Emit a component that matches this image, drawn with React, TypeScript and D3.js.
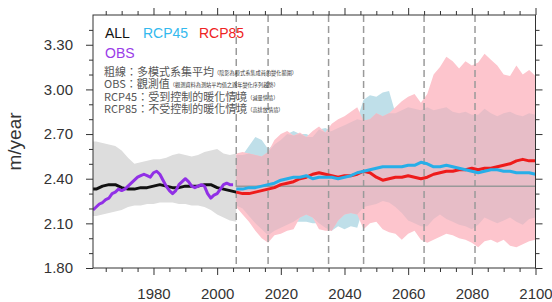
import React, { useEffect, useRef } from "react";
import * as d3 from "d3";

// historical (every 2 years, 1960-2006)
const histYears = d3.range(1960, 2007, 2);
const histUp = [2.65, 2.65, 2.64, 2.63, 2.62, 2.59, 2.54, 2.50, 2.51, 2.52,
  2.53, 2.53, 2.54, 2.56, 2.57, 2.56, 2.55, 2.56, 2.58, 2.59,
  2.60, 2.57, 2.56, 2.57];
const histLo = [2.15, 2.15, 2.16, 2.17, 2.18, 2.19, 2.21, 2.22, 2.22, 2.23,
  2.23, 2.24, 2.24, 2.24, 2.23, 2.23, 2.22, 2.22, 2.21, 2.19,
  2.16, 2.14, 2.12, 2.11];
const allMean = [2.33, 2.33, 2.35, 2.36, 2.36, 2.34, 2.33, 2.33, 2.34, 2.34,
  2.35, 2.36, 2.35, 2.34, 2.34, 2.35, 2.35, 2.35, 2.36, 2.36,
  2.34, 2.33, 2.32, 2.31];

// observations (yearly 1961-2005)
const obsYears = d3.range(1961, 2006);
const obs = [2.19, 2.21, 2.23, 2.24, 2.26, 2.27, 2.30, 2.31, 2.33, 2.32,
  2.33, 2.35, 2.37, 2.39, 2.41, 2.42, 2.43, 2.42, 2.41, 2.44,
  2.45, 2.43, 2.39, 2.35, 2.32, 2.30, 2.32, 2.36, 2.38, 2.40,
  2.38, 2.35, 2.34, 2.35, 2.36, 2.35, 2.30, 2.27, 2.29, 2.30,
  2.33, 2.36, 2.37, 2.36, 2.36];

// projections (every 2 years, 2006-2100)
const futYears = d3.range(2006, 2101, 2);
const up85 = [2.57, 2.58, 2.57, 2.56, 2.55, 2.58, 2.66, 2.70, 2.72, 2.69,
  2.71, 2.68, 2.72, 2.75, 2.71, 2.77, 2.80, 2.82, 2.85, 2.88,
  2.79, 2.80, 2.84, 2.82, 2.84, 2.88, 2.92, 2.95, 2.97, 2.91,
  2.97, 3.10, 3.15, 3.22, 3.19, 3.14, 3.19, 3.16, 3.18, 3.24,
  3.20, 3.16, 3.10, 3.09, 3.16, 3.10, 3.13, 3.09];
const lo85 = [2.21, 2.16, 2.11, 2.05, 2.00, 1.97, 2.02, 2.03, 2.05, 2.06,
  2.14, 2.16, 2.14, 2.06, 2.05, 2.05, 2.12, 2.16, 2.17, 2.16,
  2.06, 2.10, 2.11, 2.06, 2.04, 2.03, 1.99, 2.03, 2.05, 1.99,
  1.97, 1.99, 2.01, 2.03, 2.02, 2.00, 1.99, 1.97, 1.94, 1.98,
  1.99, 1.97, 1.99, 1.95, 1.94, 1.96, 1.98, 1.99];
const up45 = [2.56, 2.56, 2.62, 2.68, 2.66, 2.60, 2.63, 2.66, 2.70, 2.72,
  2.70, 2.70, 2.68, 2.73, 2.74, 2.72, 2.74, 2.76, 2.78, 2.80,
  2.93, 2.96, 2.95, 2.98, 2.99, 2.84, 2.86, 2.88, 2.87, 2.86,
  2.88, 2.86, 2.87, 2.88, 2.85, 2.84, 2.85, 2.83, 2.83, 2.87,
  2.84, 2.82, 2.84, 2.85, 2.83, 2.82, 2.84, 2.83];
const lo45 = [2.22, 2.20, 2.15, 2.10, 2.06, 2.02, 2.05, 2.07, 2.09, 2.11,
  2.11, 2.11, 2.10, 2.10, 2.07, 2.05, 2.08, 2.06, 2.08, 2.07,
  2.21, 2.22, 2.23, 2.25, 2.24, 2.21, 2.17, 2.12, 2.10, 2.08,
  2.08, 2.13, 2.16, 2.13, 2.11, 2.09, 2.08, 2.06, 2.09, 2.14,
  2.12, 2.10, 2.12, 2.14, 2.11, 2.09, 2.13, 2.14];
const rcp85 = [2.31, 2.30, 2.30, 2.31, 2.32, 2.33, 2.34, 2.36, 2.37, 2.38,
  2.40, 2.41, 2.43, 2.44, 2.43, 2.42, 2.41, 2.42, 2.42, 2.43,
  2.45, 2.44, 2.41, 2.39, 2.40, 2.41, 2.41, 2.42, 2.41, 2.40,
  2.41, 2.43, 2.44, 2.45, 2.45, 2.46, 2.46, 2.47, 2.46, 2.47,
  2.47, 2.48, 2.49, 2.50, 2.52, 2.53, 2.52, 2.52];
const rcp45 = [2.33, 2.33, 2.34, 2.34, 2.35, 2.36, 2.37, 2.39, 2.40, 2.41,
  2.41, 2.42, 2.40, 2.41, 2.41, 2.41, 2.40, 2.41, 2.42, 2.44,
  2.45, 2.46, 2.47, 2.48, 2.48, 2.48, 2.48, 2.49, 2.49, 2.51,
  2.50, 2.48, 2.48, 2.49, 2.48, 2.47, 2.46, 2.45, 2.44, 2.45,
  2.46, 2.46, 2.45, 2.45, 2.44, 2.44, 2.44, 2.43];

const baseYears = [2006, 2100];
const baseValue = 2.35;
const dashYears = [2006, 2016, 2035, 2046, 2065, 2081];
const yMajor = [1.8, 2.1, 2.4, 2.7, 3.0, 3.3];
const xMajor = [1980, 2000, 2020, 2040, 2060, 2080, 2100];

const notes = [
  { main: "粗線：多模式系集平均", small: "（陰影為模式系集成員的變化範圍）" },
  { main: "OBS：觀測值", small: "（觀測資料為測站平均值之逐年變化序列趨勢）" },
  { main: "RCP45：受到控制的暖化情境", small: "（減量情境）" },
  { main: "RCP85：不受控制的暖化情境", small: "（高排放情境）" },
];

const W = 552, H = 302;
const margin = { top: 15, right: 16.5, bottom: 34, left: 93 };

export default function App() {
  const ref = useRef<SVGSVGElement>(null);

  useEffect(() => {
    const svg = d3.select(ref.current);
    svg.selectAll("*").remove();

    const x = d3.scaleLinear().domain([1961, 2100]).range([margin.left, W - margin.right]);
    const y = d3.scaleLinear().domain([1.8, 3.5]).range([H - margin.bottom, margin.top]);
    const x0 = margin.left, x1 = W - margin.right, y0 = margin.top, y1 = H - margin.bottom;

    svg.append("clipPath").attr("id", "plot-clip")
      .append("rect").attr("x", x0).attr("y", y0).attr("width", x1 - x0).attr("height", y1 - y0);
    const g = svg.append("g").attr("clip-path", "url(#plot-clip)");

    const band = (yrs: number[], lo: number[], hi: number[]) =>
      d3.area<number>().x((_, i) => x(yrs[i])).y0((_, i) => y(lo[i])).y1((_, i) => y(hi[i]))(yrs);
    const line = (yrs: number[], v: number[]) =>
      d3.line<number>().x((_, i) => x(yrs[i])).y((_, i) => y(v[i]))(yrs);

    g.append("path").attr("d", band(histYears, histLo, histUp)).attr("fill", "#dddddd");
    g.append("path").attr("d", band(futYears, lo45, up45)).attr("fill", "#bfdfe9");
    g.append("path").attr("d", band(futYears, lo85, up85)).attr("fill", "#fdc5cd");
    const ovLo = futYears.map((_, i) => Math.max(lo45[i], lo85[i]));
    const ovHi = futYears.map((_, i) => Math.min(up45[i], up85[i]));
    g.append("path").attr("d", band(futYears, ovLo, ovHi)).attr("fill", "#e7bdc7");

    g.selectAll(".dash").data(dashYears).join("line")
      .attr("x1", d => x(d)).attr("x2", d => x(d)).attr("y1", y0).attr("y2", y1)
      .attr("stroke", "#9a9a9a").attr("stroke-width", 1.5).attr("stroke-dasharray", "7,4");

    g.append("line")
      .attr("x1", x(baseYears[0])).attr("x2", x(baseYears[1]))
      .attr("y1", y(baseValue)).attr("y2", y(baseValue))
      .attr("stroke", "#999").attr("stroke-width", 1.5);

    const drawLine = (yrs: number[], v: number[], color: string) =>
      g.append("path").attr("d", line(yrs, v)).attr("fill", "none")
        .attr("stroke", color).attr("stroke-width", 3).attr("stroke-linejoin", "round");
    drawLine(histYears, allMean, "#111");
    drawLine(obsYears, obs, "#9130e6");
    drawLine(futYears, rcp85, "#ee1b1b");
    drawLine(futYears, rcp45, "#27aee8");

    // frame + ticks
    svg.append("rect").attr("x", x0).attr("y", y0).attr("width", x1 - x0).attr("height", y1 - y0)
      .attr("fill", "none").attr("stroke", "#333").attr("stroke-width", 1);

    const xMinor = d3.range(1965, 2101, 5).filter(d => !xMajor.includes(d));
    const yMinor = d3.range(19, 35).map(d => d / 10).filter(d => !yMajor.some(m => Math.abs(m - d) < 1e-6));
    const font = "'Liberation Sans', Arial, sans-serif";

    const styleAxis = (sel: any) => {
      sel.select(".domain").remove();
      sel.selectAll("line").attr("stroke", "#333");
      sel.selectAll("text").attr("fill", "#333").style("font-family", font).style("font-size", "15px");
    };

    svg.append("g").attr("transform", `translate(0,${y1})`)
      .call(d3.axisBottom(x).tickValues(xMajor).tickSize(7).tickPadding(13).tickFormat(d3.format("d")))
      .call(styleAxis);
    svg.append("g").attr("transform", `translate(0,${y1})`)
      .call(d3.axisBottom(x).tickValues(xMinor).tickSize(4).tickFormat(() => ""))
      .call(styleAxis);
    svg.append("g").attr("transform", `translate(0,${y0})`)
      .call(d3.axisTop(x).tickValues(xMajor).tickSize(7).tickFormat(() => ""))
      .call(styleAxis);
    svg.append("g").attr("transform", `translate(0,${y0})`)
      .call(d3.axisTop(x).tickValues(xMinor).tickSize(4).tickFormat(() => ""))
      .call(styleAxis);

    svg.append("g").attr("transform", `translate(${x0},0)`)
      .call(d3.axisLeft(y).tickValues(yMajor).tickSize(7).tickPadding(13).tickFormat(d3.format(".2f")))
      .call(styleAxis);
    svg.append("g").attr("transform", `translate(${x0},0)`)
      .call(d3.axisLeft(y).tickValues(yMinor).tickSize(4).tickFormat(() => ""))
      .call(styleAxis);
    svg.append("g").attr("transform", `translate(${x1},0)`)
      .call(d3.axisRight(y).tickValues(yMajor).tickSize(7).tickFormat(() => ""))
      .call(styleAxis);
    svg.append("g").attr("transform", `translate(${x1},0)`)
      .call(d3.axisRight(y).tickValues(yMinor).tickSize(4).tickFormat(() => ""))
      .call(styleAxis);

    svg.append("text").attr("transform", `translate(21,${(y0 + y1) / 2}) rotate(-90)`)
      .attr("text-anchor", "middle").attr("fill", "#333")
      .style("font-family", font).style("font-size", "19px").text("m/year");

    // legend
    const leg = [
      { t: "ALL", c: "#111", x: 105, y: 38 },
      { t: "RCP45", c: "#33b9ee", x: 143, y: 38 },
      { t: "RCP85", c: "#ee2222", x: 199, y: 38 },
      { t: "OBS", c: "#9a3ce8", x: 105, y: 58 },
    ];
    svg.selectAll(".leg").data(leg).join("text")
      .attr("x", d => d.x).attr("y", d => d.y).attr("fill", d => d.c)
      .style("font-family", font).style("font-size", "14px").text(d => d.t);

    // notes: main text and tiny remark as separate texts
    const cjk = "'Noto Sans CJK TC', 'Noto Sans CJK SC', sans-serif";
    notes.forEach((n, i) => {
      const base = 75.5 + i * 12.5;
      const t = svg.append("text").attr("x", 104).attr("y", base)
        .attr("fill", "#555").style("font-family", cjk).style("font-size", "11px").text(n.main);
      const w = (t.node() as SVGTextElement).getComputedTextLength();
      svg.append("text").attr("x", 104 + w).attr("y", base - 1)
        .attr("fill", "#333").style("font-family", cjk).style("font-size", "5.2px").text(n.small);
    });
  }, []);

  return (
    <svg ref={ref} width={W} height={H}
      style={{ position: "absolute", left: 0, top: 0, background: "#fff" }} />
  );
}
